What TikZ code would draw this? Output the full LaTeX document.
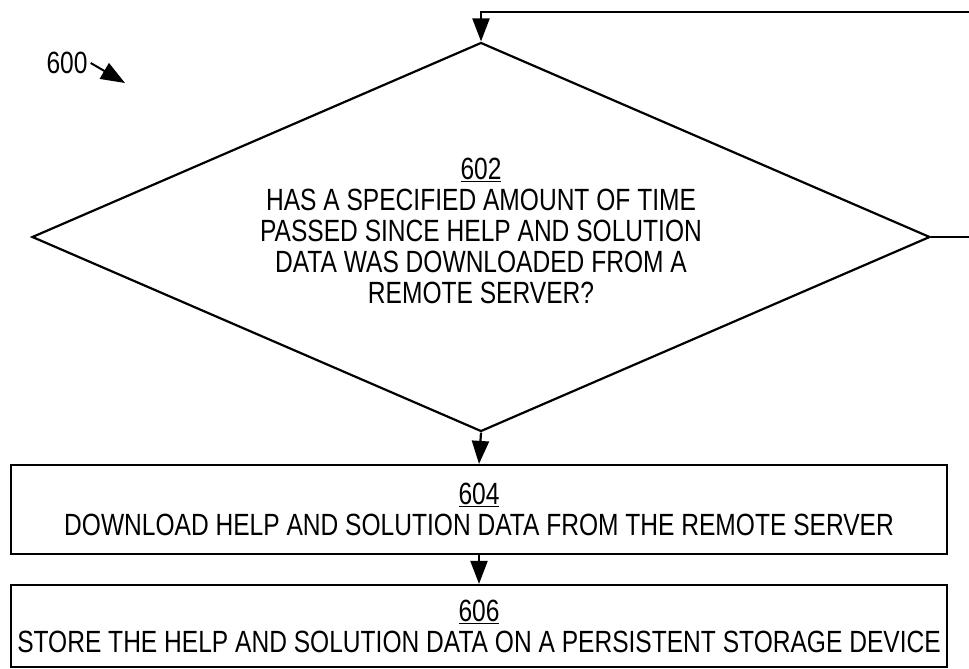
\documentclass[tikz,border=0pt]{standalone}
\usepackage{fontspec}
\setmainfont{Liberation Sans}[FakeStretch=0.8]
\usetikzlibrary{shapes.geometric,arrows.meta}

\begin{document}
\begin{tikzpicture}[x=1pt,y=-1pt,
  every node/.style={font=\fontsize{30.7}{31}\selectfont},
  decision/.style={diamond,draw,line width=2.2pt,shape aspect=2.3,
    minimum width=898pt,minimum height=389pt,inner sep=0pt},
  stepbox/.style={rectangle,draw,line width=2.2pt,minimum width=936pt,
    inner sep=0pt,align=center},
  tip/.style={-{Triangle[length=23pt,width=17pt]}},
  flow/.style={line width=2.2pt,tip}]
\useasboundingbox (0,0) rectangle (969,669);

% figure number
\node[inner sep=0pt] (l600) at (67,63) {600};
\coordinate (p600) at (125,83);
\draw[line width=2pt,-{Triangle[length=24pt,width=18pt]}] ([xshift=3pt]l600.east) -- (p600);

% steps
\node[decision] (d602) at (481,237) {};
\node[align=center,inner sep=0pt] (t602) at (481,231) {\underline{602}\\HAS A SPECIFIED AMOUNT OF TIME\\PASSED SINCE HELP AND SOLUTION\\DATA WAS DOWNLOADED FROM A\\REMOTE SERVER?};
\node[stepbox,minimum height=89pt] (b604) at (479,509.5) {\underline{604}\\DOWNLOAD HELP AND SOLUTION DATA FROM THE REMOTE SERVER};
\node[stepbox,minimum height=82pt] (b606) at (479,626) {\underline{606}\\STORE THE HELP AND SOLUTION DATA ON A PERSISTENT STORAGE DEVICE};

% connectors
\draw[flow] (d602.south) -- (b604.north);
\draw[flow] (b604.south) -- (b606.north);

% loop back
\coordinate (loopR) at (969,237);
\coordinate (loopT) at (969,12);
\draw[line width=2.2pt] (d602.east) -- (loopR);
\draw[flow] (loopT) -| (d602.north);
\end{tikzpicture}
\end{document}
